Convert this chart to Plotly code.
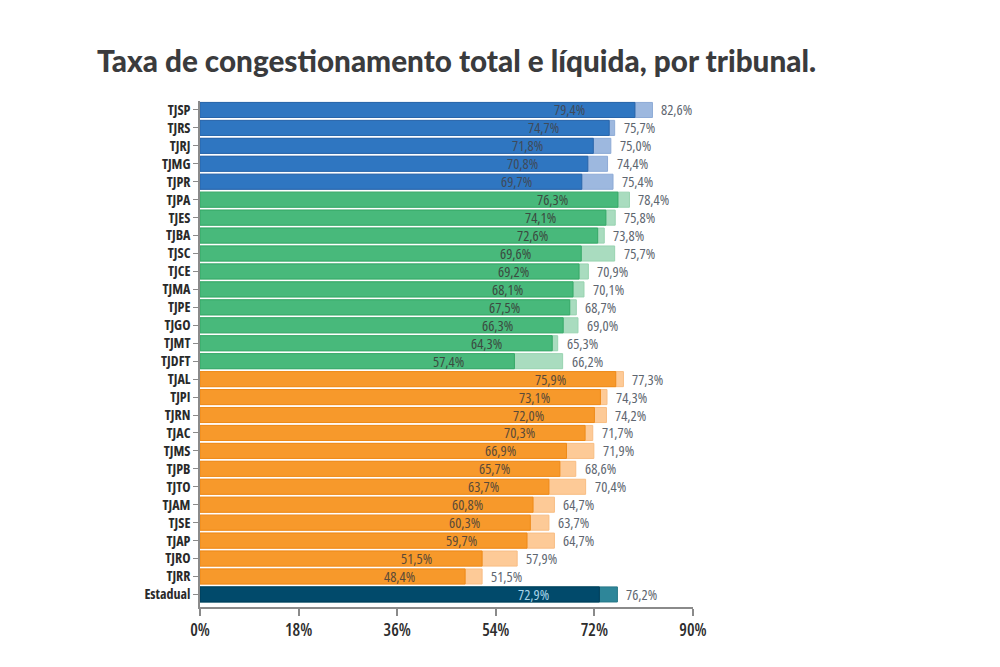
import plotly.graph_objects as go

tribunais = ["TJSP", "TJRS", "TJRJ", "TJMG", "TJPR",
             "TJPA", "TJES", "TJBA", "TJSC", "TJCE", "TJMA", "TJPE", "TJGO", "TJMT", "TJDFT",
             "TJAL", "TJPI", "TJRN", "TJAC", "TJMS", "TJPB", "TJTO", "TJAM", "TJSE", "TJAP", "TJRO", "TJRR",
             "Estadual"]
grupo = ["grande"] * 5 + ["medio"] * 10 + ["pequeno"] * 12 + ["estadual"]
taxa_liquida = [79.4, 74.7, 71.8, 70.8, 69.7,
                76.3, 74.1, 72.6, 69.6, 69.2, 68.1, 67.5, 66.3, 64.3, 57.4,
                75.9, 73.1, 72.0, 70.3, 66.9, 65.7, 63.7, 60.8, 60.3, 59.7, 51.5, 48.4,
                72.9]
taxa_total = [82.6, 75.7, 75.0, 74.4, 75.4,
              78.4, 75.8, 73.8, 75.7, 70.9, 70.1, 68.7, 69.0, 65.3, 66.2,
              77.3, 74.3, 74.2, 71.7, 71.9, 68.6, 70.4, 64.7, 63.7, 64.7, 57.9, 51.5,
              76.2]
tick_vals = [0, 18, 36, 54, 72, 90]
tick_text = ["0%", "18%", "36%", "54%", "72%", "90%"]

cor_escura = {"grande": "#2f76c1", "medio": "#48b97b", "pequeno": "#f7992b", "estadual": "#014a6b"}
borda_escura = {"grande": "#2865aa", "medio": "#35a867", "pequeno": "#ee8a18", "estadual": "#013d58"}
cor_clara = {"grande": "#9db8df", "medio": "#a9dcbf", "pequeno": "#fdca97", "estadual": "#2e8699"}
borda_clara = {"grande": "#8eabd6", "medio": "#98d3b0", "pequeno": "#f8bd83", "estadual": "#277787"}
cor_texto_int = {"grande": "#3f4a5a", "medio": "#3b4a40", "pequeno": "#5a4a38", "estadual": "#a8d4ea"}

fmt = lambda v: f"{v:.1f}".replace(".", ",") + "%"
cond = lambda s: f'<span style="font-stretch:condensed">{s}</span>'

fig = go.Figure()
fig.add_trace(go.Bar(
    y=tribunais, x=taxa_total, orientation="h",
    marker=dict(color=[cor_clara[g] for g in grupo],
                line=dict(color=[borda_clara[g] for g in grupo], width=1)),
    hoverinfo="skip", showlegend=False))
fig.add_trace(go.Bar(
    y=tribunais, x=taxa_liquida, orientation="h",
    marker=dict(color=[cor_escura[g] for g in grupo],
                line=dict(color=[borda_escura[g] for g in grupo], width=1)),
    hoverinfo="skip", showlegend=False))

fam = "Open Sans, sans-serif"
annotations = []
for t, g, liq, tot in zip(tribunais, grupo, taxa_liquida, taxa_total):
    annotations.append(dict(x=liq, y=t, xref="x", yref="y", text=cond(fmt(liq)), showarrow=False,
                            xanchor="right", xshift=-48,
                            font=dict(family=fam, size=14.5, color=cor_texto_int[g])))
    annotations.append(dict(x=tot, y=t, xref="x", yref="y", text=cond(fmt(tot)), showarrow=False,
                            xanchor="left", xshift=7,
                            font=dict(family=fam, size=14.5, color="#5e6670")))

fig.update_layout(
    width=1000, height=667,
    barmode="overlay", bargap=0.16,
    plot_bgcolor="white", paper_bgcolor="white",
    margin=dict(l=192, r=315, t=93, b=68),
    title=dict(text="Taxa de congestionamento total e líquida, por tribunal.",
               x=0.089, xanchor="left", y=0.92, yanchor="middle",
               font=dict(family="Lato, sans-serif", size=29.7, weight=900, color="#3a3b3d")),
    annotations=annotations,
    xaxis=dict(range=[0, 90], tickvals=tick_vals, ticktext=[cond(s) for s in tick_text],
               showgrid=False, zeroline=False, showline=True, linecolor="#8a8a8a", linewidth=1.5,
               ticks="outside", ticklen=7, tickcolor="#8a8a8a", tickwidth=1.5,
               tickfont=dict(family=fam, size=17, weight=600, color="#2d2d2d")),
    yaxis=dict(categoryorder="array", categoryarray=tribunais,
               tickvals=tribunais, ticktext=[cond(s) for s in tribunais],
               range=[27.7, -0.5], showgrid=False, zeroline=False,
               showline=True, linecolor="#8a8a8a", linewidth=1.5,
               ticks="outside", ticklen=5, tickcolor="#8a8a8a",
               tickfont=dict(family=fam, size=14, weight=700, color="#2a2a2a")),
)
fig.write_html("out.html")
